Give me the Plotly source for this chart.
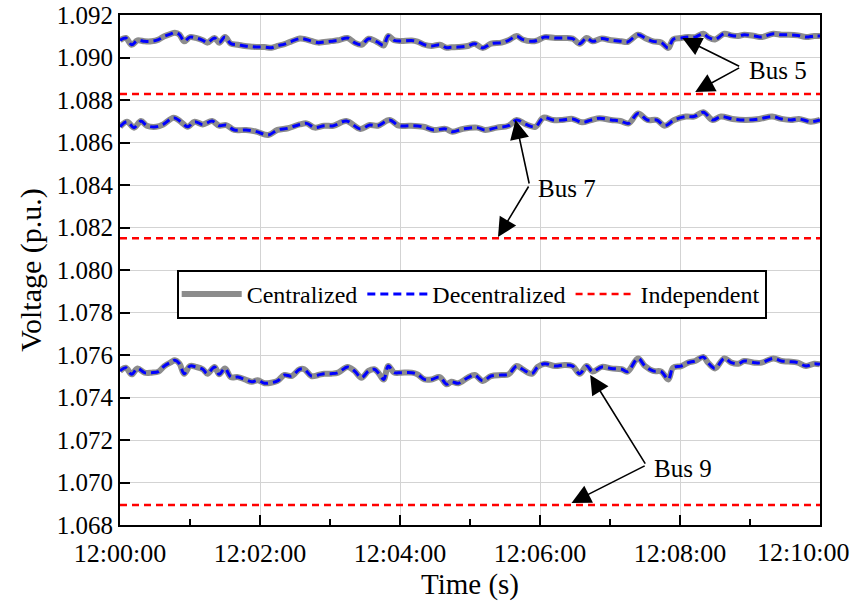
import pandas as pd
import plotly.graph_objects as go

# ---------------- data ----------------
t_sec_59 = [0, 5, 10, 15, 21, 27, 33, 38, 44, 47, 51, 55, 60, 65, 71, 75, 81, 85, 90, 95,
            101, 107, 113, 118, 124, 130, 135, 141, 147, 154, 158, 164, 170, 175, 181, 187, 195, 201, 207, 213,
            218, 222, 226, 230, 235, 241, 250, 255, 261, 267, 274, 280, 284, 290, 298,
            304, 311, 318, 327, 333, 340, 345, 353, 358, 364, 373, 381, 388, 394, 400, 405, 413, 421, 430, 435,
            444, 450, 457, 464, 470, 474, 481, 487, 493, 500, 504, 510, 518, 524, 530, 535, 544, 550, 560, 567,
            573, 581, 588, 595, 600]

bus5_v = [1.09081, 1.09092, 1.09060, 1.09081, 1.09076, 1.09076, 1.09084, 1.09100, 1.09112, 1.09117,
          1.09108, 1.09076, 1.09096, 1.09092, 1.09081, 1.09070, 1.09092, 1.09070, 1.09096, 1.09065,
          1.09060, 1.09054, 1.09051, 1.09049, 1.09049, 1.09046, 1.09055, 1.09063, 1.09076, 1.09089,
          1.09087, 1.09078, 1.09070, 1.09073, 1.09077, 1.09081, 1.09092, 1.09070, 1.09060, 1.09088,
          1.09080, 1.09068, 1.09057, 1.09101, 1.09081, 1.09078, 1.09080, 1.09075, 1.09060, 1.09054,
          1.09060, 1.09046, 1.09048, 1.09049, 1.09054,
          1.09065, 1.09045, 1.09065, 1.09070, 1.09081, 1.09101, 1.09085, 1.09076, 1.09081, 1.09096,
          1.09092, 1.09092, 1.09089, 1.09065, 1.09092, 1.09076, 1.09089, 1.09081, 1.09076, 1.09073,
          1.09107, 1.09092, 1.09076, 1.09070, 1.09045, 1.09085, 1.09092, 1.09096, 1.09096, 1.09112,
          1.09096, 1.09085, 1.09112, 1.09104, 1.09101, 1.09107, 1.09101, 1.09096, 1.09112, 1.09107,
          1.09107, 1.09104, 1.09096, 1.09101, 1.09101]

bus9_v = [1.07525, 1.07540, 1.07509, 1.07537, 1.07517, 1.07517, 1.07522, 1.07548, 1.07567, 1.07575,
          1.07559, 1.07512, 1.07548, 1.07544, 1.07533, 1.07512, 1.07544, 1.07509, 1.07537, 1.07496,
          1.07496, 1.07485, 1.07474, 1.07481, 1.07467, 1.07470, 1.07478, 1.07506, 1.07501, 1.07533,
          1.07533, 1.07501, 1.07506, 1.07512, 1.07512, 1.07517, 1.07544, 1.07525, 1.07493, 1.07525,
          1.07533, 1.07512, 1.07485, 1.07548, 1.07517, 1.07517, 1.07517, 1.07509, 1.07485, 1.07485,
          1.07496, 1.07462, 1.07474, 1.07467, 1.07493,
          1.07506, 1.07478, 1.07501, 1.07506, 1.07509, 1.07548, 1.07533, 1.07512, 1.07544, 1.07559,
          1.07548, 1.07553, 1.07548, 1.07512, 1.07548, 1.07522, 1.07544, 1.07537, 1.07533, 1.07522,
          1.07584, 1.07548, 1.07525, 1.07522, 1.07485, 1.07540, 1.07548, 1.07564, 1.07572, 1.07591,
          1.07564, 1.07537, 1.07584, 1.07564, 1.07559, 1.07572, 1.07564, 1.07564, 1.07584, 1.07572,
          1.07569, 1.07564, 1.07548, 1.07559, 1.07556]

t_sec_7 = [0, 6, 12, 18, 23, 31, 37, 46, 52, 58, 64, 71, 79, 85, 91, 98, 108, 117, 127, 135,
           144, 154, 160, 167, 175, 183, 194, 206, 214, 221, 231, 239, 248, 260, 269, 279, 285, 294, 306, 313,
           323, 333, 340, 348, 356, 363, 371, 379, 388, 396, 404, 411, 421, 429, 436, 444, 452, 460, 467, 475,
           485, 492, 500, 508, 515, 525, 536, 548, 559, 567, 575, 582, 592, 600]

bus7_v = [1.08674, 1.08698, 1.08670, 1.08701, 1.08679, 1.08674, 1.08685, 1.08717, 1.08698, 1.08674,
          1.08698, 1.08685, 1.08701, 1.08679, 1.08682, 1.08659, 1.08659, 1.08651, 1.08635, 1.08659,
          1.08667, 1.08685, 1.08690, 1.08670, 1.08679, 1.08679, 1.08701, 1.08664, 1.08682, 1.08679,
          1.08706, 1.08679, 1.08679, 1.08674, 1.08659, 1.08664, 1.08651, 1.08664, 1.08670, 1.08659,
          1.08670, 1.08679, 1.08706, 1.08685, 1.08674, 1.08717, 1.08706, 1.08706, 1.08711, 1.08695,
          1.08706, 1.08714, 1.08706, 1.08701, 1.08690, 1.08737, 1.08706, 1.08706, 1.08679, 1.08706,
          1.08722, 1.08722, 1.08742, 1.08706, 1.08722, 1.08711, 1.08706, 1.08711, 1.08722, 1.08711,
          1.08706, 1.08711, 1.08698, 1.08706]

# Independent (constant) voltages
indep_v = {"Bus 5": 1.08828, "Bus 7": 1.08149, "Bus 9": 1.06894}

bus_labels = ["Bus 5", "Bus 7", "Bus 9"]
y_ticks = [1.068, 1.070, 1.072, 1.074, 1.076, 1.078, 1.080, 1.082, 1.084, 1.086, 1.088, 1.090, 1.092]
x_tick_secs = [0, 120, 240, 360, 480, 600]
x_tick_text = ["12:00:00", "12:02:00", "12:04:00", "12:06:00", "12:08:00", "12:10:00"]

# ---------------- build figure ----------------
base = pd.Timestamp("2024-01-01 12:00:00")
def to_time(secs):
    return [base + pd.Timedelta(seconds=s) for s in secs]

series = {
    "Bus 5": (t_sec_59, bus5_v),
    "Bus 7": (t_sec_7, bus7_v),
    "Bus 9": (t_sec_59, bus9_v),
}

FONT = "Liberation Serif"
fig = go.Figure()

t_start, t_end = base, base + pd.Timedelta(seconds=600)

for i, bus in enumerate(bus_labels):
    ts, vs = series[bus]
    x = to_time(ts)
    fig.add_trace(go.Scatter(
        x=x, y=vs, mode="lines", name="Centralized", legendgroup="c",
        showlegend=(i == 0),
        line=dict(color="#8c8c8c", width=6, shape="spline", smoothing=1.0)))
    fig.add_trace(go.Scatter(
        x=x, y=vs, mode="lines", name="Decentralized", legendgroup="d",
        showlegend=(i == 0),
        line=dict(color="#0000ff", width=3, dash="8px,5px", shape="spline", smoothing=1.0)))
    fig.add_trace(go.Scatter(
        x=[t_start, t_end], y=[indep_v[bus]] * 2, mode="lines", name="Independent",
        legendgroup="i", showlegend=(i == 0),
        line=dict(color="#ff0000", width=2.5, dash="7px,5px")))

# annotation geometry: (label, junction seconds, junction v, [(tip sec, tip v), ...])
ann_specs = [
    ("Bus 5", 532, 1.08955, [(482, 1.09092), (493, 1.08838)]),
    ("Bus 7", 351, 1.08400, [(339, 1.08706), (324, 1.08155)]),
    ("Bus 9", 451, 1.07082, [(403, 1.07506), (387, 1.06904)]),
]
annotations = []
for label, js, jv, tips in ann_specs:
    jx = base + pd.Timedelta(seconds=js)
    for ts_, tv in tips:
        annotations.append(dict(
            x=base + pd.Timedelta(seconds=ts_), y=tv, xref="x", yref="y",
            ax=jx, ay=jv, axref="x", ayref="y", text="",
            showarrow=True, arrowhead=2, arrowsize=2.4, arrowwidth=1.6,
            arrowcolor="black", standoff=0, startstandoff=0))
    annotations.append(dict(
        x=jx, y=jv, xref="x", yref="y", text=label, showarrow=False,
        xanchor="left", yanchor="middle", xshift=6, yshift=-3,
        font=dict(family=FONT, size=25, color="black")))

# the last time label sits shifted left to stay inside the page (as in the reference)
annotations.append(dict(
    x=1.0, y=0.0, xref="paper", yref="paper", text=x_tick_text[-1], showarrow=False,
    xanchor="right", yanchor="top", xshift=31, yshift=-11,
    font=dict(family=FONT, size=26, color="black")))

fig.update_layout(
    width=850, height=601,
    margin=dict(l=120, r=30, t=15, b=76, autoexpand=False),
    paper_bgcolor="white", plot_bgcolor="white",
    font=dict(family=FONT, size=24, color="black"),
    showlegend=True,
    legend=dict(orientation="h", x=0.081, y=0.50, xanchor="left", yanchor="top",
                bgcolor="white", bordercolor="black", borderwidth=2,
                font=dict(family=FONT, size=24, color="black"),
                itemwidth=60, tracegroupgap=0),
    annotations=annotations,
)

tick_text_shown = x_tick_text[:-1] + [""]

fig.update_xaxes(
    type="date", range=[t_start, t_end], automargin=False,
    tickvals=to_time(x_tick_secs), ticktext=tick_text_shown,
    ticklabelstandoff=4,
    ticks="inside", ticklen=10, tickwidth=2, tickcolor="black",
    showline=True, linewidth=2, linecolor="black", mirror=True,
    showgrid=True, gridcolor="#d3d3d3", gridwidth=1,
    minor=dict(dtick=60000, tick0=t_start, ticks="inside", ticklen=6, tickwidth=2,
               tickcolor="black", showgrid=False),
    tickfont=dict(family=FONT, size=26, color="black"),
    title=dict(text="Time (s)", font=dict(family=FONT, size=29, color="black"), standoff=0),
    zeroline=False,
)
fig.update_yaxes(
    range=[1.068, 1.092], tickvals=y_ticks, tickformat=".3f", automargin=False,
    ticks="inside", ticklen=10, tickwidth=2, tickcolor="black",
    showline=True, linewidth=2, linecolor="black", mirror=True,
    showgrid=True, gridcolor="#d3d3d3", gridwidth=1,
    tickfont=dict(family=FONT, size=25, color="black"),
    title=dict(text="Voltage (p.u.)", font=dict(family=FONT, size=30, color="black"), standoff=6),
    zeroline=False,
)

fig.write_html("out.html")
